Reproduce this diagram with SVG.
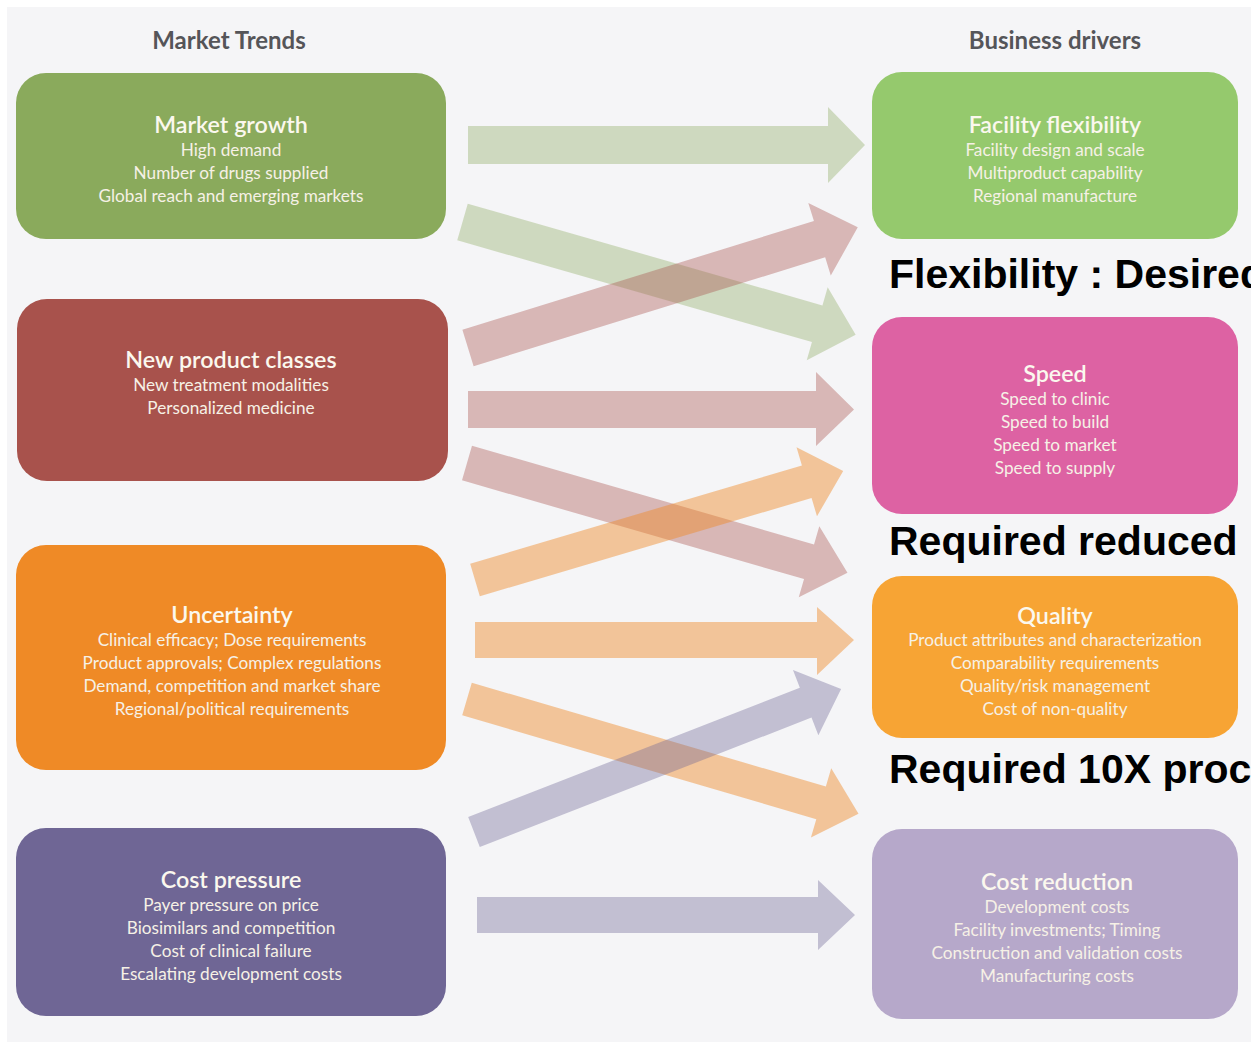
<svg xmlns="http://www.w3.org/2000/svg" width="1251" height="1042" viewBox="0 0 1251 1042">
<style>
.hdr{font-family:Lato,"Open Sans","Liberation Sans",sans-serif;font-size:24px;font-weight:700;fill:#555559;text-anchor:middle}
.ttl{font-family:Lato,"Open Sans","Liberation Sans",sans-serif;font-size:23.3px;font-weight:600;fill:#fbf8ee;text-anchor:middle}
.sub{font-family:Lato,"Open Sans","Liberation Sans",sans-serif;font-size:17.2px;font-weight:400;fill:#f6f1e6;text-anchor:middle}
.big{font-family:"Liberation Sans",Arial,sans-serif;font-size:41px;font-weight:700;fill:#000}
.ar-g{fill:#8aaa5c;opacity:0.36}
.ar-r{fill:#a8524c;opacity:0.38}
.ar-o{fill:#ef8a26;opacity:0.45}
.ar-p{fill:#6f6695;opacity:0.38}
</style>
<rect x="0" y="0" width="1251" height="1042" fill="#ffffff"/>
<rect x="7" y="7" width="1244" height="1035" fill="#f5f5f7"/>

<text class="hdr" x="229" y="49">Market Trends</text>
<text class="hdr" x="1055" y="49">Business drivers</text>

<g id="connectors">
  <polygon class="ar-g" points="468,126 828,126 828,107 865,145 828,183 828,164 468,164"/>
  <g transform="translate(462.5,222) rotate(16)"><polygon class="ar-g" points="0,-19 369,-19 369,-38 409,0 369,38 369,19 0,19"/></g>
  <g transform="translate(468,348) rotate(-17.2)"><polygon class="ar-r" points="0,-19 368,-19 368,-38 408,0 368,38 368,19 0,19"/></g>
  <polygon class="ar-r" points="468,391 816,391 816,372 854,409.5 816,446 816,428 468,428"/>
  <g transform="translate(467,463) rotate(16.1)"><polygon class="ar-r" points="0,-18 356,-18 356,-37 396,0 356,37 356,18 0,18"/></g>
  <g transform="translate(475,580) rotate(-16.5)"><polygon class="ar-o" points="0,-17 346,-17 346,-36 384,0 346,36 346,17 0,17"/></g>
  <polygon class="ar-o" points="475,622 817,622 817,607 854,640 817,675 817,658 475,658"/>
  <g transform="translate(467,699) rotate(16.35)"><polygon class="ar-o" points="0,-17 369,-17 369,-36 408,0 369,36 369,17 0,17"/></g>
  <g transform="translate(474,832) rotate(-21.3)"><polygon class="ar-p" points="0,-16 356,-16 356,-35 394,0 356,35 356,16 0,16"/></g>
  <polygon class="ar-p" points="477,897 818,897 818,880 855,915 818,950 818,933 477,933"/>
</g>

<g id="market-growth">
  <rect x="16" y="73" width="430" height="166" rx="30" fill="#8aaa5c"/>
  <text class="ttl" x="231" y="133">Market growth</text>
  <text class="sub" x="231" y="156">High demand</text>
  <text class="sub" x="231" y="179">Number of drugs supplied</text>
  <text class="sub" x="231" y="202">Global reach and emerging markets</text>
</g>

<g id="new-product-classes">
  <rect x="17" y="299" width="431" height="182" rx="30" fill="#a8524c"/>
  <text class="ttl" x="231" y="368">New product classes</text>
  <text class="sub" x="231" y="391">New treatment modalities</text>
  <text class="sub" x="231" y="414">Personalized medicine</text>
</g>

<g id="uncertainty">
  <rect x="16" y="545" width="430" height="225" rx="30" fill="#ef8a26"/>
  <text class="ttl" x="232" y="623">Uncertainty</text>
  <text class="sub" x="232" y="646">Clinical efficacy; Dose requirements</text>
  <text class="sub" x="232" y="669">Product approvals; Complex regulations</text>
  <text class="sub" x="232" y="692">Demand, competition and market share</text>
  <text class="sub" x="232" y="715">Regional/political requirements</text>
</g>

<g id="cost-pressure">
  <rect x="16" y="828" width="430" height="188" rx="30" fill="#6f6695"/>
  <text class="ttl" x="231" y="888">Cost pressure</text>
  <text class="sub" x="231" y="911">Payer pressure on price</text>
  <text class="sub" x="231" y="934">Biosimilars and competition</text>
  <text class="sub" x="231" y="957">Cost of clinical failure</text>
  <text class="sub" x="231" y="980">Escalating development costs</text>
</g>

<g id="facility-flexibility">
  <rect x="872" y="72" width="366" height="167" rx="30" fill="#95c96d"/>
  <text class="ttl" x="1055" y="133">Facility flexibility</text>
  <text class="sub" x="1055" y="156">Facility design and scale</text>
  <text class="sub" x="1055" y="179">Multiproduct capability</text>
  <text class="sub" x="1055" y="202">Regional manufacture</text>
</g>

<g id="speed">
  <rect x="872" y="317" width="366" height="197" rx="30" fill="#dd62a3"/>
  <text class="ttl" x="1055" y="382">Speed</text>
  <text class="sub" x="1055" y="405">Speed to clinic</text>
  <text class="sub" x="1055" y="428">Speed to build</text>
  <text class="sub" x="1055" y="451">Speed to market</text>
  <text class="sub" x="1055" y="474">Speed to supply</text>
</g>

<g id="quality">
  <rect x="872" y="576" width="366" height="162" rx="30" fill="#f7a434"/>
  <text class="ttl" x="1055" y="624">Quality</text>
  <text class="sub" x="1055" y="646">Product attributes and characterization</text>
  <text class="sub" x="1055" y="669">Comparability requirements</text>
  <text class="sub" x="1055" y="692">Quality/risk management</text>
  <text class="sub" x="1055" y="715">Cost of non-quality</text>
</g>

<g id="cost-reduction">
  <rect x="872" y="829" width="366" height="190" rx="30" fill="#b6a8ca"/>
  <text class="ttl" x="1057" y="890">Cost reduction</text>
  <text class="sub" x="1057" y="913">Development costs</text>
  <text class="sub" x="1057" y="936">Facility investments; Timing</text>
  <text class="sub" x="1057" y="959">Construction and validation costs</text>
  <text class="sub" x="1057" y="982">Manufacturing costs</text>
</g>

<g id="annotations">
  <text class="big" x="889" y="288">Flexibility : Desired</text>
  <text class="big" x="889" y="555">Required reduced</text>
  <text class="big" x="889" y="783">Required 10X proc</text>
</g>
</svg>
